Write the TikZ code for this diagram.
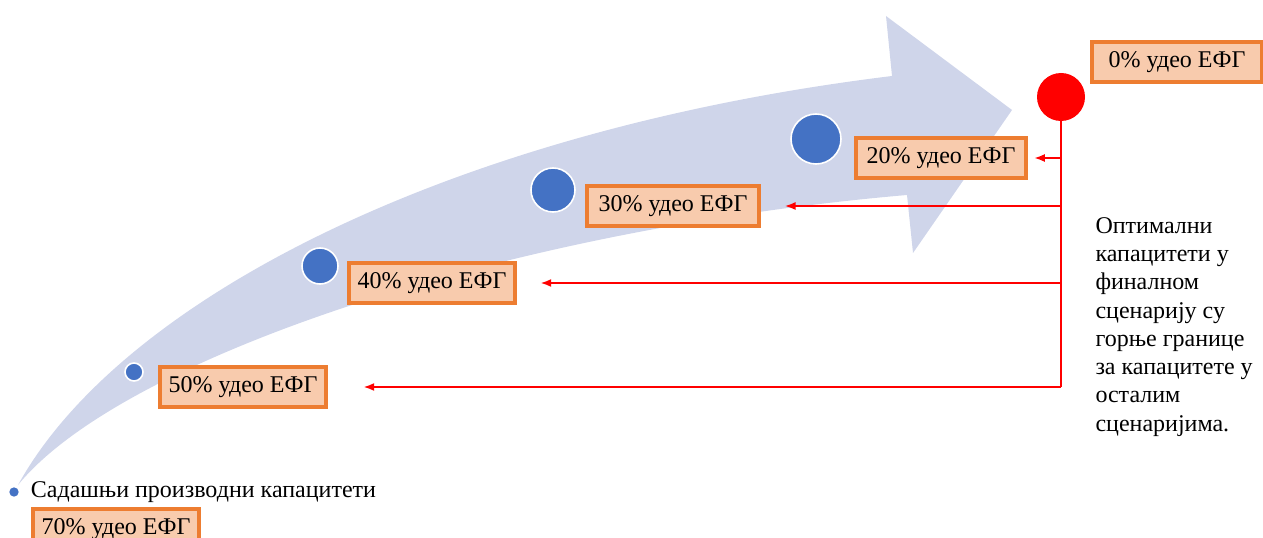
\documentclass[tikz,border=0pt]{standalone}
\usepackage{fontspec}
\setmainfont{Liberation Serif}
\usetikzlibrary{arrows.meta}
\definecolor{bandblue}{RGB}{207,213,234}
\definecolor{dotblue}{RGB}{68,114,196}
\definecolor{boxfill}{RGB}{248,203,173}
\definecolor{boxline}{RGB}{237,125,49}
\tikzset{every picture/.style={line width=0.75pt}}
\tikzset{
  effbox/.style={draw=boxline, fill=boxfill, line width=2.8pt, minimum width=124pt, minimum height=30pt, inner sep=3pt, font=\fontsize{18}{21}\selectfont},
  dot/.style={circle, fill=dotblue, draw=white, line width=1.2pt, inner sep=0pt},
  feed/.style={draw=red, line width=1.3pt, -{Latex[length=8pt,width=6pt]}},
}

\begin{document}
\begin{tikzpicture}[x=0.75pt,y=0.75pt,yscale=-1,xscale=1]
\useasboundingbox (0,0) rectangle (1263,538);

%Curved arrow [band]
\fill [bandblue] (18,485) .. controls (120,300) and (450,130) .. (892,76) -- (886,16) -- (1012,110) -- (913,253) -- (907,195) .. controls (500,230) and (120,360) .. (18,485) -- cycle ;

%Circles along the band
\node [dot, minimum size=13.5pt] (c50) at (134,372) {};
\node [dot, minimum size=27pt] (c40) at (320,266) {};
\node [dot, minimum size=33pt] (c30) at (553,190) {};
\node [dot, minimum size=37.5pt] (c20) at (816,139) {};
\node [circle, fill=red, inner sep=0pt, minimum size=36pt] (cfin) at (1061,97) {};
\node [circle, fill=dotblue, inner sep=0pt, minimum size=7pt] (cnow) at (14,492) {};

% Text Node
\node [anchor=west, font=\fontsize{18}{21}\selectfont] (now) at (26,492) {Садашњи производни капацитети};

%Boxes
\node [effbox] (b70) at (116,529) {70\% удео ЕФГ};
\node [effbox] (b50) at (243,387) {50\% удео ЕФГ};
\node [effbox] (b40) at (432,283) {40\% удео ЕФГ};
\node [effbox, minimum width=129pt] (b30) at (673,206) {30\% удео ЕФГ};
\node [effbox, minimum width=127pt] (b20) at (941,158) {20\% удео ЕФГ};
\node [effbox, minimum width=127pt] (b0) at (1177,62) {0\% удео ЕФГ};

%Red connectors
\draw [red, line width=1.3pt] (cfin.south) -- (cfin.south |- b50.east) ;
\draw [feed, shorten >=5pt] (cfin.south |- b20.east) -- (b20.east) ;
\draw [feed, shorten >=18pt] (cfin.south |- b30.east) -- (b30.east) ;
\draw [feed, shorten >=18pt] (cfin.south |- b40.east) -- (b40.east) ;
\draw [feed, shorten >=27pt] (cfin.south |- b50.east) -- (b50.east) ;

% Text Node
\node [anchor=north west, align=left, inner sep=0pt, font=\fontsize{18}{21.2}\selectfont] (note) at (1095,217) {Оптимални\\капацитети у\\финалном\\сценарију су\\горње границе\\за капацитете у\\осталим\\сценаријима.};

\end{tikzpicture}
\end{document}
